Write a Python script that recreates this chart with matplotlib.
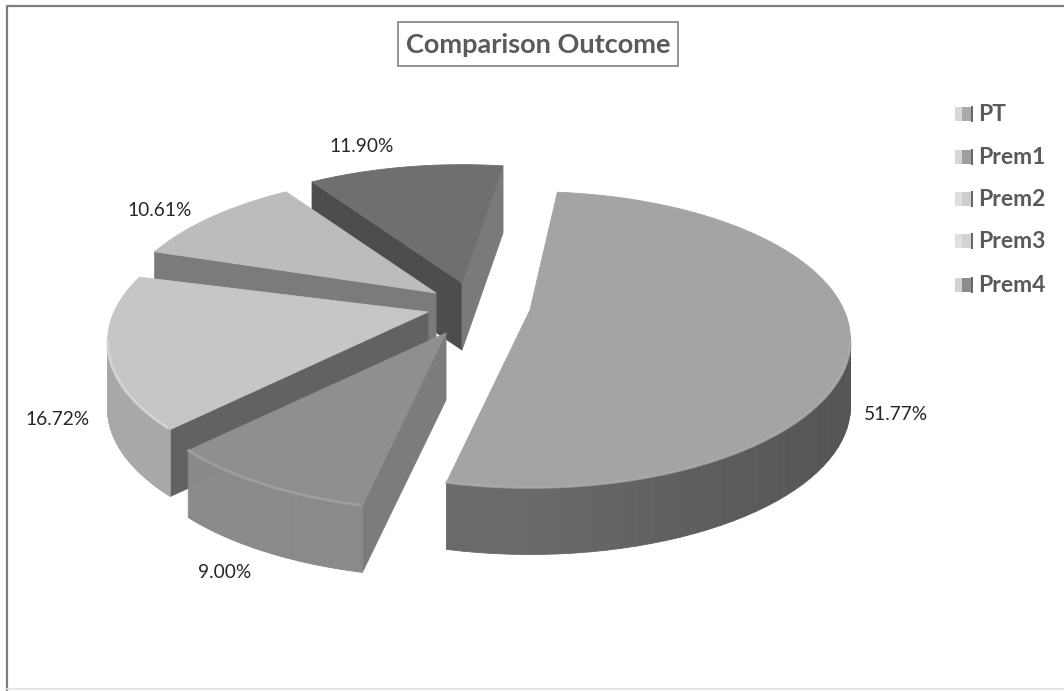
import numpy as np
import matplotlib
matplotlib.use("Agg")
import matplotlib.pyplot as plt
from matplotlib.patches import Polygon, Rectangle

names = ["PT", "Prem1", "Prem2", "Prem3", "Prem4"]
shares = [51.77, 9.00, 16.72, 10.61, 11.90]

START_ANGLE = 6.0
RX, RY = 314.0, 142.0
PERSPECTIVE = 0.2
DEPTH = 67.0

# where each exploded slice ended up, in pixels, and small angle nudges for the skewed 3D view
apex_x = [530, 446, 428, 436, 462]
apex_y = [310, 333, 312, 293, 283]
nudge = [0, 0, 0, 3, 3]
draw_order = [4, 3, 2, 1, 0]

top_colors = ["#a4a4a4", "#8f8f8f", "#c6c6c6", "#bcbcbc", "#6f6f6f"]
rim_colors = ["#6a6a6a", "#8a8a8a", "#a8a8a8", "#9a9a9a", "#5f5f5f"]
cut_in_colors = ["#666666", "#7c7c7c", "#626262", "#7b7b7b", "#4d4d4d"]
cut_out_colors = ["#666666", "#7a7a7a", "#626262", "#7b7b7b", "#7a7a7a"]
edge_colors = ["#adadad", "#a6a6a6", "#dcdcdc", "#cfcfcf", "#777777"]
icon_colors = ["#8c8c8c", "#7f7f7f", "#bdbdbd", "#c4c4c4", "#666666"]

label_x = [896, 225, 58, 160, 362]
label_y = [414, 573, 419, 210, 146]
legend_y = [114, 157, 199, 241, 285]


def project(t_deg, radius=1.0):
    t = np.radians(t_deg)
    u, v = radius * np.sin(t), radius * np.cos(t)
    w = 1 + PERSPECTIVE * v
    return RX * u / w, -RY * v / w


def quad(ax, a, b, color, zorder):
    pts = [a, b, (b[0], b[1] + DEPTH), (a[0], a[1] + DEPTH)]
    ax.add_patch(Polygon(pts, closed=True, facecolor=color, edgecolor=color, linewidth=0.6, zorder=zorder))


def draw_slice(ax, i, t0, t1, zorder):
    ts = np.linspace(t0, t1, 80)
    xs, ys = project(ts)
    xs, ys = xs + apex_x[i], ys + apex_y[i]
    apex = (apex_x[i], apex_y[i])

    # only walls whose edge runs right to left on screen face the viewer
    if xs[0] < apex[0]:
        quad(ax, apex, (xs[0], ys[0]), cut_in_colors[i], zorder)
    if apex[0] < xs[-1]:
        quad(ax, (xs[-1], ys[-1]), apex, cut_out_colors[i], zorder)

    rgb = np.array(matplotlib.colors.to_rgb(rim_colors[i]))
    for k in range(len(ts) - 1):
        if xs[k + 1] < xs[k]:
            # darker toward the far right, as in the rendered bevel
            shade = 1 - 0.2 * np.clip((xs[k] - apex[0]) / RX, 0, 1)
            quad(ax, (xs[k], ys[k]), (xs[k + 1], ys[k + 1]), tuple(rgb * shade), zorder)

    top = [apex] + list(zip(xs, ys))
    ax.add_patch(Polygon(top, closed=True, facecolor=top_colors[i], edgecolor=top_colors[i],
                         linewidth=0.6, zorder=zorder + 0.1))
    front = np.r_[False, xs[1:] < xs[:-1]]
    ax.plot(xs[front], ys[front], color=edge_colors[i], linewidth=2.0, alpha=0.7,
            solid_capstyle="round", zorder=zorder + 0.2)


fig = plt.figure(figsize=(10.64, 6.91), dpi=100)
ax = fig.add_axes([0, 0, 1, 1])
ax.set_xlim(0, 1064)
ax.set_ylim(691, 0)
ax.axis("off")

# outer frame, only the top and left really show in the scan
ax.plot([7, 7, 1064], [691, 6, 6], color="#7d7d7d", linewidth=1.6)
ax.plot([7, 1064], [689, 689], color="#e2e2e2", linewidth=1.2)

ends = START_ANGLE + np.cumsum(np.array(shares) * 3.6)
starts = ends - np.array(shares) * 3.6
for z, i in enumerate(draw_order):
    draw_slice(ax, i, starts[i] + nudge[i], ends[i] + nudge[i], 2 + z)

for i, share in enumerate(shares):
    ax.text(label_x[i], label_y[i], f"{share:.2f}%", family="Lato", fontsize=13.8, color="#262626",
            ha="center", va="center", zorder=20)

ax.text(538, 45, "Comparison Outcome", family="Lato", fontsize=19.5, color="#5a5a5a",
        fontweight="bold", ha="center", va="center", zorder=20)
ax.add_patch(Rectangle((398, 22), 280, 44, fill=False, edgecolor="#7f7f7f", linewidth=1.2))

for i, name in enumerate(names):
    y = legend_y[i]
    ax.add_patch(Rectangle((955, y - 7), 18, 14, facecolor=icon_colors[i], edgecolor="none", alpha=0.75))
    ax.add_patch(Rectangle((955, y - 7), 7, 14, facecolor="#e4e4e4", edgecolor="none", alpha=0.8))
    ax.add_patch(Rectangle((971, y - 8), 2, 16, facecolor="#666666", edgecolor="none"))
    ax.text(978, y, name, family="Lato", fontsize=16.5, color="#5a5a5a", fontweight="bold",
            ha="left", va="center")

fig.savefig("out.png", dpi=100)
